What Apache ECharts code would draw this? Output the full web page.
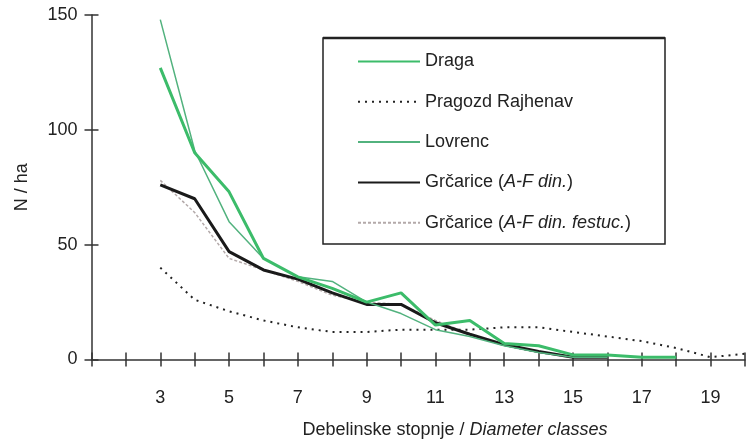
<!DOCTYPE html>
<html>
<head>
<meta charset="utf-8">
<script src="https://cdn.jsdelivr.net/npm/echarts@6/dist/echarts.min.js"></script>
<style>html,body{margin:0;padding:0;background:#fff}#c{width:748px;height:443px}</style>
</head>
<body>
<div id="c"></div>
<script>
var classes = [3,4,5,6,7,8,9,10,11,12,13,14,15,16,17,18,19,20];
var draga    = [127,90,73,44,36,31,25,29,15,17,7,6,2,2,1,1,null,null];
var pragozd  = [40,26,21,17,14,12,12,13,13,13,14,14,12,10,8,5,1,2.5];
var lovrenc  = [148,91,60,44,36,34,25,20,13,10,6,3,1,1,null,null,null,null];
var grcA     = [76,70,47,39,35,29,24,24,16,11,6.5,3.5,1,1,null,null,null,null];
var grcF     = [78,64,44,39,34,28,25,24,17,11,6,3,1,1,null,null,null,null];
var xTickLabels = ['3','5','7','9','11','13','15','17','19'];
var yTicks = [0,50,100,150];
var names = ['Draga','Pragozd Rajhenav','Lovrenc','Grčarice (A-F din.)','Grčarice (A-F din. festuc.)'];

function pairs(vals){
  var out = [];
  for (var i=0;i<classes.length;i++){ if (vals[i]!==null) out.push([classes[i], vals[i]]); }
  return out;
}
var FF = '"Liberation Sans", Arial, sans-serif';
var chart = echarts.init(document.getElementById('c'), null, {renderer:'canvas'});
var axisCol = '#333';
var hiddenLine = {show:true, onZero:false, lineStyle:{color:'rgba(0,0,0,0)', width:0}};
var option = {
  animation:false,
  backgroundColor:'#fff',
  grid:[
    {left:91.5, right:3, top:15, bottom:83.5, outerBoundsMode:'none', containLabel:false},
    {left:91.5, right:3, top:8, bottom:90.5, outerBoundsMode:'none', containLabel:false},
    {left:98.5, right:3, top:15, bottom:83.5, outerBoundsMode:'none', containLabel:false}
  ],
  xAxis:[{
    gridIndex:0, type:'value', min:1, max:20, interval:1, position:'bottom',
    axisLine:{show:true, onZero:false, lineStyle:{color:axisCol, width:1.5}},
    axisTick:{show:false},
    axisLabel:{margin:30, color:'#222', fontSize:18, fontFamily:FF,
      formatter:function(v){ var s=String(v); return xTickLabels.indexOf(s)>=0 ? s : ''; }},
    splitLine:{show:false}
  },{
    gridIndex:1, type:'value', min:1, max:20, interval:1, position:'bottom',
    axisLine:hiddenLine,
    axisTick:{show:true, inside:false, length:14, lineStyle:{color:axisCol, width:1.5}},
    axisLabel:{show:false}, splitLine:{show:false}
  },{
    gridIndex:2, type:'value', min:1, max:20, interval:1, position:'bottom', show:false
  }],
  yAxis:[{
    gridIndex:0, type:'value', min:0, max:150, interval:50, position:'left',
    name:'N / ha', nameLocation:'middle', nameGap:60,
    nameTextStyle:{fontSize:18, fontFamily:FF, color:'#222'},
    axisLine:{show:true, onZero:false, lineStyle:{color:axisCol, width:1.5}},
    axisTick:{show:false},
    axisLabel:{margin:14, color:'#222', fontSize:18, fontFamily:FF,
      formatter:function(v){ return yTicks.indexOf(v)>=0 ? String(v) : ''; }},
    splitLine:{show:false}
  },{
    gridIndex:1, type:'value', min:0, max:150, interval:50, position:'left', show:false
  },{
    gridIndex:2, type:'value', min:0, max:150, interval:50, position:'left',
    axisLine:hiddenLine,
    axisTick:{show:true, inside:false, length:14, lineStyle:{color:axisCol, width:1.5}},
    axisLabel:{show:false}, splitLine:{show:false}
  }],
  legend:{
    orient:'vertical', left:357, top:51.5, padding:0,
    itemWidth:62, itemHeight:20, itemGap:20.3,
    data:names,
    itemStyle:{opacity:0},
    textStyle:{fontSize:18, fontFamily:FF, color:'#222', lineHeight:20,
      rich:{i:{fontStyle:'italic', fontSize:18, fontFamily:FF, color:'#222', lineHeight:20}}},
    formatter:function(n){
      if (n===names[3]) return 'Grčarice ({i|A-F din.})';
      if (n===names[4]) return 'Grčarice ({i|A-F din. festuc.})';
      return n;
    }
  },
  graphic:[
    {type:'rect', z:-1, shape:{x:323, y:38, width:342, height:206}, style:{fill:'#fff', stroke:'#222', lineWidth:1.5}},
    {type:'line', z:-1, shape:{x1:323, y1:38, x2:665, y2:38}, style:{stroke:'#222', lineWidth:2.5}},
    {type:'text', x:455, y:430, style:{
      text:'Debelinske stopnje / {i|Diameter classes}',
      rich:{i:{fontStyle:'italic', fontSize:18, fontFamily:FF, fill:'#222'}},
      fontSize:18, fontFamily:FF, fill:'#222', align:'center', verticalAlign:'middle'}}
  ],
  series:[
    {name:names[0], type:'line', symbol:'none', z:6, data:pairs(draga),
      lineStyle:{color:'#3cbc6a', width:3}, itemStyle:{color:'#3cbc6a'}},
    {name:names[1], type:'line', symbol:'none', z:3, data:pairs(pragozd),
      lineStyle:{color:'#222', width:2, type:[2,5]}, itemStyle:{color:'#222'}},
    {name:names[2], type:'line', symbol:'none', z:5, data:pairs(lovrenc),
      lineStyle:{color:'#52b27e', width:1.5}, itemStyle:{color:'#52b27e'}},
    {name:names[3], type:'line', symbol:'none', z:4, data:pairs(grcA),
      lineStyle:{color:'#1a1a1a', width:3}, itemStyle:{color:'#1a1a1a'}},
    {name:names[4], type:'line', symbol:'none', z:2, data:pairs(grcF),
      lineStyle:{color:'#b3a9a9', width:1.5, type:[3,2]}, itemStyle:{color:'#b3a9a9'}}
  ]
};
chart.setOption(option);
</script>
</body>
</html>
